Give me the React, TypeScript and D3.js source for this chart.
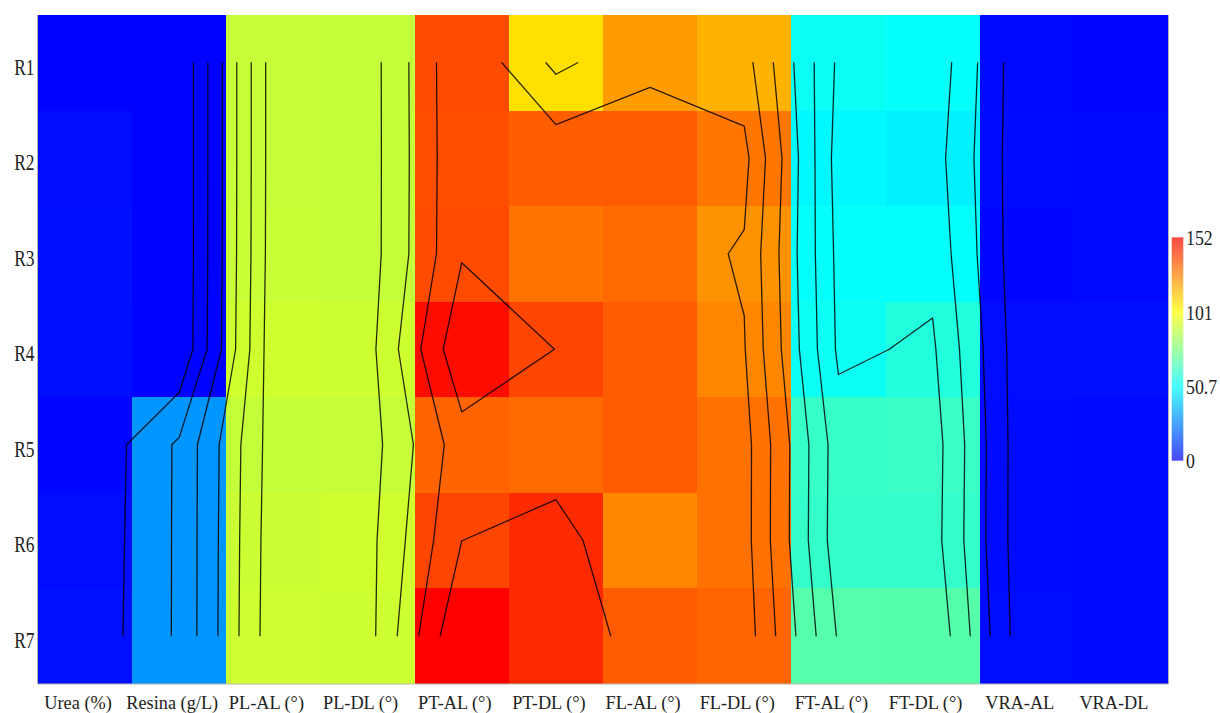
import { useEffect, useRef } from 'react'
import * as d3 from 'd3'

const columns = ['Urea (%)', 'Resina (g/L)', 'PL-AL (°)', 'PL-DL (°)', 'PT-AL (°)', 'PT-DL (°)', 'FL-AL (°)', 'FL-DL (°)', 'FT-AL (°)', 'FT-DL (°)', 'VRA-AL', 'VRA-DL']
const rowLabels = ['R1', 'R2', 'R3', 'R4', 'R5', 'R6', 'R7']

// one array per row, same order as columns
const r1 = [0.5, 0.3, 90.3, 89.9, 137, 107.4, 121, 116.4, 52.7, 51.6, 1.5, 1.0]
const r2 = [2.2, 0.3, 90.3, 89.9, 136.5, 133.6, 134, 128.4, 49.4, 47.8, 1.9, 1.5]
const r3 = [2.6, 0.3, 90.6, 89.9, 137, 129, 131, 123, 51.6, 51.3, 1.2, 1.5]
const r4 = [2.6, 0.5, 92, 91.6, 149.6, 138, 134, 125.1, 53, 57.2, 2.1, 2.5]
const r5 = [1.2, 29.9, 89.8, 90, 132.2, 131, 134, 129.6, 61.6, 61.9, 1.9, 1.5]
const r6 = [2.2, 29.9, 91, 92.1, 138.1, 143.5, 125, 129.5, 61, 61, 2, 1.5]
const r7 = [3, 29.9, 91.7, 91.5, 152, 144, 134, 132, 67.7, 67.5, 2.4, 1.5]
const values = [r1, r2, r3, r4, r5, r6, r7]

const zMin = 0
const zMax = 152
const colorTicks = [0, 50.7, 101, 152]
const contourSteps = 11

type Seg = [number, number, number, number]

// plain marching squares on the cell-centre grid, returns segments in (col,row) units
function contourSegments(z: number[][], level: number): Seg[] {
  const segs: Seg[] = []
  for (let j = 0; j < z.length - 1; j++) {
    for (let i = 0; i < z[0].length - 1; i++) {
      const a = z[j][i], b = z[j][i + 1], c = z[j + 1][i + 1], d = z[j + 1][i]
      const up = (v: number) => v >= level
      const pts: [number, number][] = []
      const top = up(a) !== up(b) ? [i + (level - a) / (b - a), j] as [number, number] : null
      const right = up(b) !== up(c) ? [i + 1, j + (level - b) / (c - b)] as [number, number] : null
      const bottom = up(d) !== up(c) ? [i + (level - d) / (c - d), j + 1] as [number, number] : null
      const left = up(a) !== up(d) ? [i, j + (level - a) / (d - a)] as [number, number] : null
      if (top) pts.push(top)
      if (right) pts.push(right)
      if (bottom) pts.push(bottom)
      if (left) pts.push(left)
      if (pts.length === 2) {
        segs.push([pts[0][0], pts[0][1], pts[1][0], pts[1][1]])
      } else if (pts.length === 4 && top && right && bottom && left) {
        const centreUp = (a + b + c + d) / 4 >= level
        if (centreUp === up(a)) {
          segs.push([top[0], top[1], right[0], right[1]])
          segs.push([bottom[0], bottom[1], left[0], left[1]])
        } else {
          segs.push([top[0], top[1], left[0], left[1]])
          segs.push([right[0], right[1], bottom[0], bottom[1]])
        }
      }
    }
  }
  return segs
}

export default function App() {
  const svgRef = useRef<SVGSVGElement>(null)
  const width = 1220
  const height = 713

  useEffect(() => {
    if (!svgRef.current) return
    const svg = d3.select(svgRef.current)
    svg.selectAll('*').remove()

    const plot = { left: 38, right: 1168, top: 15, bottom: 683.5 }
    const font = "'Liberation Serif', 'Times New Roman', serif"

    const x = d3.scaleBand<string>().domain(columns).range([plot.left, plot.right])
    const y = d3.scaleBand<string>().domain(rowLabels).range([plot.top, plot.bottom])
    const color = d3.scaleLinear<string>()
      .domain([zMin, zMax / 3, (2 * zMax) / 3, zMax])
      .range(['#0000ff', '#00ffff', '#ffff00', '#ff0000'])
      .clamp(true)

    // grid index -> pixel at cell centre
    const gx = d3.scaleLinear().domain([0, columns.length - 1])
      .range([x(columns[0])! + x.bandwidth() / 2, x(columns[columns.length - 1])! + x.bandwidth() / 2])
    const gy = d3.scaleLinear().domain([0, rowLabels.length - 1])
      .range([y(rowLabels[0])! + y.bandwidth() / 2, y(rowLabels[rowLabels.length - 1])! + y.bandwidth() / 2])

    const cells = values.flatMap((row, j) => row.map((v, i) => ({ col: columns[i], row: rowLabels[j], v })))

    svg.append('g')
      .selectAll('rect')
      .data(cells)
      .enter().append('rect')
      .attr('x', d => x(d.col)!)
      .attr('y', d => y(d.row)!)
      .attr('width', x.bandwidth() + 0.5)
      .attr('height', y.bandwidth() + 0.5)
      .attr('fill', d => color(d.v))
      .attr('shape-rendering', 'crispEdges')

    // contour lines
    const levels = d3.range(1, contourSteps).map(k => zMin + (k * (zMax - zMin)) / contourSteps)
    const lines = svg.append('g')
      .attr('opacity', 0.82)
      .attr('fill', 'none')
      .attr('stroke', '#000')
      .attr('stroke-width', 1.3)
      .attr('stroke-linecap', 'round')
      .attr('stroke-linejoin', 'round')
    levels.forEach(level => {
      const segs = contourSegments(values, level)
      const path = segs.map(s => `M${gx(s[0])},${gy(s[1])}L${gx(s[2])},${gy(s[3])}`).join('')
      if (path) lines.append('path').attr('d', path)
    })

    // axis frame lines
    const frame = svg.append('g').attr('stroke', '#b4b4b4').attr('stroke-width', 1)
    frame.append('line').attr('x1', plot.left - 0.5).attr('x2', plot.left - 0.5).attr('y1', plot.top).attr('y2', plot.bottom + 0.5)
    frame.append('line').attr('x1', plot.left - 0.5).attr('x2', plot.right + 0.5).attr('y1', plot.bottom + 0.5).attr('y2', plot.bottom + 0.5)
    frame.append('line').attr('x1', plot.right + 0.5).attr('x2', plot.right + 0.5).attr('y1', plot.top).attr('y2', plot.bottom + 0.5)

    // x labels
    svg.append('g')
      .selectAll('text')
      .data(columns)
      .enter().append('text')
      .attr('x', d => x(d)! + x.bandwidth() / 2 - 7)
      .attr('y', 709)
      .attr('text-anchor', 'middle')
      .attr('font-family', font)
      .attr('font-size', 18.3)
      .attr('fill', '#222')
      .text(d => d)

    // y labels
    svg.append('g')
      .selectAll('text')
      .data(rowLabels)
      .enter().append('text')
      .attr('transform', d => `translate(34.5,${y(d)! + y.bandwidth() / 2 + 12.2}) scale(1,1.34)`)
      .attr('text-anchor', 'end')
      .attr('font-family', font)
      .attr('font-size', 17.4)
      .attr('fill', '#222')
      .text(d => d)

    // colour bar
    const bar = { x: 1171.7, w: 11.6, top: 237.3, bottom: 460.7 }
    const grad = svg.append('defs').append('linearGradient')
      .attr('id', 'cbar')
      .attr('x1', 0).attr('y1', 1).attr('x2', 0).attr('y2', 0)
    color.domain().forEach(v => {
      grad.append('stop')
        .attr('offset', (v - zMin) / (zMax - zMin))
        .attr('stop-color', color(v))
    })
    svg.append('rect')
      .attr('x', bar.x)
      .attr('y', bar.top)
      .attr('width', bar.w)
      .attr('height', bar.bottom - bar.top)
      .attr('fill', 'url(#cbar)')
      .attr('opacity', 0.72)

    const cy = d3.scaleLinear().domain([zMin, zMax]).range([bar.bottom, bar.top])
    svg.append('g')
      .selectAll('text')
      .data(colorTicks)
      .enter().append('text')
      .attr('transform', d => `translate(1186,${cy(d) + 7.4}) scale(1,1.22)`)
      .attr('font-family', font)
      .attr('font-size', 17.8)
      .attr('fill', '#222')
      .text(d => String(d))
  }, [])

  return (
    <svg
      ref={svgRef}
      width={width}
      height={height}
      style={{ position: 'absolute', left: 0, top: 0, background: '#fff' }}
    />
  )
}
